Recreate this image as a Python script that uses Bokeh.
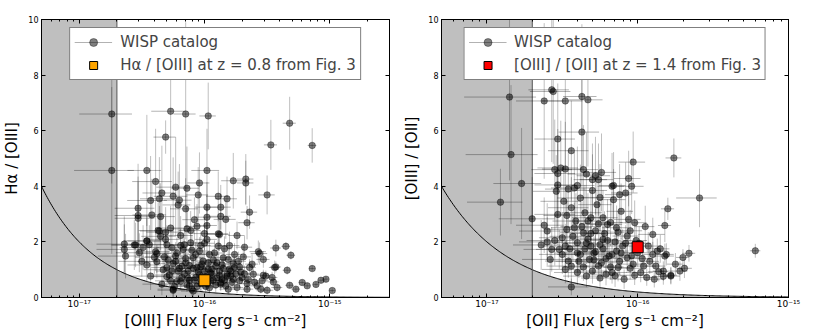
import numpy as np
from bokeh.plotting import figure
from bokeh.models import (ColumnDataSource, Range1d, LogAxis, LinearAxis, Legend, LegendItem,
                          CustomJSTickFormatter, FixedTicker, LogTicker)
from bokeh.layouts import row
from bokeh.embed import file_html
from bokeh.resources import INLINE

FLUX_LIMIT = 2e-17  # detection limit (shaded region / curve ratio = limit / flux)

# ---------------- left panel: Halpha / [OIII] vs [OIII] flux ----------------
left_logflux = [
    -16.74, -16.27, -16.15, -15.97, -16.31, -15.47, -15.32, -15.14, -16.74, -16.46,
    -15.98, -16.14, -16.23, -16.39, -16.34, -16.43, -16.36, -16.05, -16.25, -16.20,
    -16.04, -15.77, -15.67, -15.67, -15.89, -15.82, -15.50, -16.53, -16.53, -16.53,
    -16.42, -16.35, -16.21, -16.15, -15.98, -15.87, -15.98, -15.87, -15.83, -15.64,
    -15.66, -16.06, -15.98, -16.37, -16.31, -16.14, -15.89, -15.74, -16.64, -16.56,
    -16.46, -16.64, -16.63, -16.49, -16.38, -16.30, -16.19, -16.03, -15.80, -15.68,
    -15.56, -15.43, -15.35, -15.31, -15.43, -15.34, -15.14, -15.53, -15.45, -15.32,
    -15.27, -15.22, -15.18, -15.11, -15.07, -15.03, -14.98, -15.50, -16.25, -16.09,
    -16.55, -16.52, -16.46, -16.46, -16.43, -16.39, -16.38, -16.36, -16.34, -16.32,
    -16.31, -16.30, -16.28, -16.26, -16.25, -16.23, -16.21, -16.19, -16.18, -16.17,
    -16.15, -16.13, -16.11, -16.11, -16.09, -16.07, -16.06, -16.04, -16.01, -15.98,
    -15.96, -15.94, -15.91, -15.89, -15.87, -15.85, -15.82, -16.10, -16.25, -15.98,
    -16.03, -15.88, -15.57, -15.69, -15.53, -15.81, -15.77, -15.72, -15.64, -15.61,
    -15.70, -15.77, -15.82, -15.87, -15.66, -15.58, -15.54, -15.51, -15.46, -15.44,
    -15.42, -15.55, -15.66, -15.74, -15.81, -16.00, -15.93, -16.12, -15.79, -16.22,
    -16.20, -16.16, -16.12, -16.08, -16.05, -16.02, -15.99, -15.97, -15.95, -15.93,
    -15.90, -15.88, -15.86, -15.84, -15.80, -15.78, -15.75, -15.73, -16.27, -16.24,
    -16.14, -16.06, -15.96, -16.33, -16.29, -16.22, -16.16, -16.10, -16.00, -15.92,
    -15.84, -16.40, -16.44, -16.50, -16.35, -16.27, -16.08, -16.00, -15.76, -15.71,
    -16.18, -16.13, -16.09, -16.04, -16.01, -15.97, -15.94, -15.91, -15.88, -15.85,
    -15.83, -15.79, -15.76, -15.72, -15.68, -15.65, -15.62, -15.60, -16.30, -16.26,
    -16.23, -16.19, -16.15, -16.12, -16.07, -16.03, -15.99, -15.95, -15.90, -15.86,
]
left_ratio = [
    6.60, 6.70, 6.60, 6.53, 5.77, 5.49, 6.27, 5.47, 4.57, 4.57,
    4.57, 3.93, 3.97, 4.17, 3.76, 3.49, 3.55, 3.69, 3.64, 3.50,
    4.12, 4.20, 4.26, 4.12, 3.64, 3.55, 3.69, 3.21, 2.95, 2.85,
    2.97, 2.91, 3.33, 3.19, 3.25, 3.25, 2.89, 2.92, 2.81, 3.07,
    2.69, 2.56, 2.59, 2.41, 2.35, 2.47, 2.29, 2.23, 1.92, 1.89,
    2.04, 1.73, 1.49, 1.80, 1.58, 1.90, 1.87, 1.87, 1.87, 1.81,
    1.58, 1.78, 1.84, 1.52, 1.10, 0.98, 1.04, 0.80, 0.56, 0.44,
    0.30, 0.54, 0.42, 0.47, 0.62, 0.66, 0.25, 0.26, 0.26, 0.23,
    1.89, 1.61, 2.03, 1.17, 0.77, 1.65, 1.29, 2.39, 0.48, 1.46,
    2.09, 1.08, 0.81, 1.79, 1.22, 1.49, 0.95, 2.23, 0.72, 1.73,
    1.25, 0.95, 1.97, 2.41, 1.43, 0.72, 1.08, 1.67, 1.31, 2.09,
    1.55, 0.84, 1.13, 1.85, 0.48, 1.43, 0.77, 0.30, 0.30, 0.50,
    0.50, 2.27, 1.65, 1.46, 1.37, 1.37, 1.22, 1.10, 1.08, 0.84,
    0.72, 0.66, 0.84, 0.54, 0.50, 0.42, 0.60, 0.77, 0.72, 1.08,
    0.36, 0.30, 0.30, 0.36, 0.30, 0.95, 0.62, 0.62, 0.95, 0.58,
    1.05, 0.85, 1.15, 0.62, 0.92, 1.20, 0.75, 1.02, 0.60, 1.35,
    0.70, 0.95, 1.18, 0.62, 1.02, 0.55, 0.85, 1.30, 0.60, 0.40,
    0.45, 0.40, 0.35, 1.00, 1.35, 1.60, 1.90, 1.70, 1.95, 1.60,
    1.75, 1.45, 1.90, 1.30, 2.20, 2.50, 2.80, 2.30, 1.55, 0.92,
    1.12, 0.70, 1.05, 0.82, 0.55, 1.25, 1.02, 0.45, 0.80, 1.05,
    0.42, 0.78, 1.08, 0.60, 0.85, 0.65, 1.20, 0.55, 0.75, 0.95,
    1.30, 0.58, 1.40, 0.42, 1.55, 1.10, 0.40, 0.88, 1.25, 0.66,
]
left_xerr_frac = [
    0.45, 0.30, 0.20, 0.15, 0.20, 0.12, 0.12, 0.08, 0.50, 0.30,
    0.25, 0.25, 0.30, 0.35, 0.30, 0.35, 0.30, 0.20, 0.30, 0.25,
    0.20, 0.20, 0.15, 0.15, 0.20, 0.20, 0.15, 0.35, 0.35, 0.35,
    0.30, 0.30, 0.25, 0.25, 0.20, 0.20, 0.20, 0.20, 0.20, 0.15,
    0.15, 0.20, 0.20, 0.30, 0.30, 0.25, 0.20, 0.15, 0.40, 0.35,
    0.35, 0.40, 0.40, 0.35, 0.30, 0.30, 0.25, 0.20, 0.20, 0.15,
    0.15, 0.10, 0.08, 0.08, 0.10, 0.08, 0.06, 0.12, 0.10, 0.08,
    0.08, 0.06, 0.06, 0.05, 0.05, 0.05, 0.05, 0.12, 0.25, 0.20,
    0.35, 0.35, 0.30, 0.30, 0.30, 0.30, 0.30, 0.30, 0.30, 0.30,
    0.30, 0.25, 0.25, 0.25, 0.25, 0.25, 0.25, 0.25, 0.25, 0.25,
    0.20, 0.20, 0.20, 0.20, 0.20, 0.20, 0.20, 0.20, 0.20, 0.20,
    0.20, 0.20, 0.20, 0.20, 0.15, 0.15, 0.15, 0.20, 0.25, 0.20,
    0.20, 0.20, 0.15, 0.15, 0.12, 0.15, 0.15, 0.15, 0.12, 0.12,
    0.12, 0.15, 0.15, 0.15, 0.12, 0.12, 0.12, 0.10, 0.10, 0.10,
    0.10, 0.10, 0.12, 0.12, 0.15, 0.20, 0.20, 0.20, 0.15, 0.25,
    0.25, 0.20, 0.20, 0.20, 0.20, 0.20, 0.20, 0.20, 0.15, 0.20,
    0.15, 0.15, 0.15, 0.15, 0.15, 0.12, 0.12, 0.15, 0.25, 0.25,
    0.20, 0.20, 0.15, 0.30, 0.25, 0.25, 0.25, 0.20, 0.20, 0.20,
    0.15, 0.30, 0.30, 0.35, 0.30, 0.25, 0.20, 0.20, 0.15, 0.12,
    0.22, 0.20, 0.20, 0.20, 0.18, 0.18, 0.18, 0.15, 0.15, 0.15,
    0.15, 0.15, 0.15, 0.12, 0.12, 0.12, 0.12, 0.12, 0.25, 0.25,
    0.22, 0.22, 0.20, 0.20, 0.20, 0.20, 0.18, 0.18, 0.15, 0.15,
]
left_yerr = [
    2.50, 3.00, 3.30, 1.20, 0.60, 0.90, 0.95, 0.62, 3.00, 2.00,
    1.50, 1.50, 1.80, 1.90, 1.70, 1.60, 1.50, 1.00, 1.40, 1.30,
    1.10, 1.00, 0.90, 0.80, 0.90, 0.80, 0.70, 1.60, 1.40, 1.30,
    1.30, 1.20, 1.20, 1.10, 0.90, 0.80, 0.80, 0.80, 0.70, 0.60,
    0.60, 0.80, 0.70, 1.00, 0.90, 0.80, 0.60, 0.50, 1.00, 0.90,
    0.90, 0.90, 0.80, 0.80, 0.70, 0.70, 0.60, 0.50, 0.50, 0.40,
    0.40, 0.30, 0.15, 0.15, 0.20, 0.15, 0.10, 0.20, 0.15, 0.10,
    0.10, 0.10, 0.10, 0.10, 0.10, 0.10, 0.08, 0.15, 0.30, 0.25,
    0.80, 0.70, 0.80, 0.60, 0.50, 0.70, 0.60, 0.90, 0.40, 0.60,
    0.80, 0.50, 0.40, 0.60, 0.50, 0.50, 0.40, 0.70, 0.35, 0.60,
    0.50, 0.40, 0.60, 0.70, 0.50, 0.30, 0.40, 0.50, 0.40, 0.60,
    0.50, 0.30, 0.40, 0.50, 0.25, 0.40, 0.30, 0.25, 0.30, 0.25,
    0.25, 0.60, 0.40, 0.40, 0.30, 0.40, 0.35, 0.30, 0.30, 0.25,
    0.25, 0.25, 0.30, 0.25, 0.20, 0.20, 0.20, 0.20, 0.20, 0.25,
    0.15, 0.15, 0.15, 0.20, 0.20, 0.35, 0.25, 0.25, 0.35, 0.25,
    0.40, 0.35, 0.40, 0.30, 0.35, 0.40, 0.30, 0.35, 0.25, 0.40,
    0.30, 0.35, 0.35, 0.25, 0.30, 0.25, 0.30, 0.35, 0.30, 0.25,
    0.25, 0.25, 0.20, 0.45, 0.50, 0.55, 0.60, 0.55, 0.55, 0.45,
    0.45, 0.60, 0.70, 0.55, 0.80, 0.80, 0.80, 0.60, 0.40, 0.30,
    0.40, 0.30, 0.35, 0.30, 0.25, 0.40, 0.35, 0.25, 0.30, 0.35,
    0.20, 0.30, 0.35, 0.25, 0.30, 0.25, 0.35, 0.20, 0.35, 0.40,
    0.45, 0.30, 0.45, 0.25, 0.45, 0.35, 0.25, 0.30, 0.40, 0.30,
]
left_fig3_flux = [1.0e-16]
left_fig3_ratio = [0.62]

# ---------------- right panel: [OIII] / [OII] vs [OII] flux ----------------
right_logflux = [
    -16.85, -16.84, -16.57, -16.56, -16.62, -16.48, -16.37, -16.33, -16.37, -16.53,
    -16.44, -16.03, -15.76, -16.77, -16.55, -16.51, -16.48, -16.53, -16.36, -16.34,
    -16.28, -16.24, -16.26, -16.30, -16.16, -16.06, -16.04, -16.40, -16.53, -16.91,
    -16.70, -16.44, -15.59, -15.80, -15.82, -15.22, -15.66, -15.70, -15.78, -15.83,
    -16.60, -16.64, -16.57, -16.50, -16.44, -16.38, -16.31, -16.24, -16.19, -16.13,
    -16.07, -16.02, -15.96, -15.90, -15.86, -15.82, -15.78, -15.89, -16.09, -16.21,
    -16.34, -16.48, -16.58, -16.53, -16.49, -16.38, -16.27, -16.16, -16.11, -16.31,
    -16.20, -16.42, -16.54, -16.42, -16.17, -16.08, -16.23, -16.14, -16.32, -16.40,
    -16.07, -16.00, -15.93, -15.90, -15.88, -15.83, -15.98, -16.17, -16.26, -16.46,
    -16.52, -16.14, -16.36, -16.44, -16.33, -16.23, -16.06, -15.81, -15.87, -16.28,
    -16.55, -16.47, -16.45, -16.41, -16.39, -16.35, -16.33, -16.29, -16.28, -16.25,
    -16.22, -16.21, -16.18, -16.15, -16.12, -16.10, -16.05, -16.03, -15.99, -15.95,
    -15.92, -16.30, -16.25, -16.15, -16.02, -15.94, -16.40, -16.50, -16.60, -16.62,
    -16.47, -16.35, -16.25, -16.12, -16.46, -16.30, -15.75, -15.72, -15.69, -15.85,
    -16.48, -16.43, -16.40, -16.37, -16.34, -16.31, -16.29, -16.26, -16.23, -16.20,
    -16.17, -16.13, -16.11, -16.08, -16.04, -16.01, -15.97, -16.36, -16.18, -16.05,
]
right_ratio = [
    7.21, 5.14, 7.47, 7.41, 7.07, 7.07, 7.23, 7.11, 5.95, 5.70,
    5.28, 4.87, 5.02, 4.10, 4.60, 4.66, 4.62, 4.46, 4.60, 4.44,
    4.38, 4.50, 4.24, 4.24, 4.03, 4.28, 4.00, 4.03, 4.05, 3.43,
    2.83, 0.38, 3.58, 3.19, 2.59, 1.68, 1.59, 1.44, 0.80, 0.76,
    2.39, 1.89, 1.73, 2.15, 1.13, 1.55, 1.85, 1.25, 1.49, 1.08,
    2.21, 2.69, 1.13, 2.27, 0.93, 1.49, 0.77, 0.66, 0.66, 0.84,
    0.77, 1.01, 1.37, 2.99, 3.46, 3.58, 3.34, 3.52, 3.10, 2.87,
    2.63, 2.51, 3.82, 3.94, 4.00, 3.76, 2.09, 1.67, 1.37, 1.97,
    1.43, 1.61, 1.85, 1.55, 1.13, 0.95, 0.90, 0.90, 1.13, 1.31,
    1.73, 2.51, 2.33, 3.23, 2.75, 2.87, 2.81, 1.55, 1.67, 1.65,
    2.05, 2.45, 1.75, 2.75, 1.30, 1.75, 2.10, 1.60, 2.40, 1.90,
    2.30, 1.40, 2.70, 2.00, 1.30, 1.85, 2.40, 1.20, 1.95, 2.55,
    1.30, 0.95, 0.70, 0.78, 0.80, 0.72, 0.90, 1.55, 2.00, 2.60,
    2.95, 3.05, 3.60, 3.70, 3.90, 3.85, 1.20, 0.95, 1.05, 1.75,
    1.85, 2.20, 1.60, 2.55, 1.95, 2.30, 1.35, 2.65, 1.75, 2.05,
    1.55, 2.35, 1.60, 1.95, 1.50, 2.05, 1.40, 1.10, 1.10, 1.05,
]
right_xerr_frac = [
    0.50, 0.50, 0.30, 0.30, 0.35, 0.30, 0.25, 0.25, 0.30, 0.30,
    0.30, 0.20, 0.12, 0.35, 0.30, 0.30, 0.30, 0.30, 0.25, 0.25,
    0.25, 0.25, 0.25, 0.25, 0.20, 0.20, 0.20, 0.30, 0.30, 0.40,
    0.40, 0.30, 0.30, 0.10, 0.10, 0.08, 0.10, 0.10, 0.10, 0.10,
    0.35, 0.35, 0.35, 0.30, 0.30, 0.30, 0.30, 0.25, 0.25, 0.20,
    0.20, 0.20, 0.20, 0.20, 0.15, 0.15, 0.15, 0.15, 0.20, 0.25,
    0.30, 0.30, 0.35, 0.30, 0.30, 0.30, 0.25, 0.20, 0.20, 0.25,
    0.25, 0.30, 0.30, 0.30, 0.20, 0.20, 0.25, 0.20, 0.30, 0.30,
    0.20, 0.20, 0.20, 0.15, 0.15, 0.15, 0.20, 0.25, 0.25, 0.30,
    0.30, 0.20, 0.30, 0.30, 0.25, 0.25, 0.20, 0.12, 0.15, 0.25,
    0.35, 0.30, 0.30, 0.30, 0.30, 0.30, 0.25, 0.25, 0.25, 0.25,
    0.25, 0.25, 0.20, 0.20, 0.20, 0.20, 0.20, 0.20, 0.20, 0.15,
    0.15, 0.25, 0.25, 0.20, 0.20, 0.15, 0.30, 0.30, 0.35, 0.35,
    0.30, 0.30, 0.25, 0.20, 0.30, 0.25, 0.12, 0.12, 0.12, 0.15,
    0.30, 0.30, 0.30, 0.28, 0.28, 0.25, 0.25, 0.25, 0.25, 0.22,
    0.22, 0.20, 0.20, 0.20, 0.18, 0.18, 0.18, 0.28, 0.22, 0.20,
]
right_yerr = [
    3.00, 2.50, 2.60, 2.60, 2.80, 2.50, 2.60, 2.40, 2.00, 2.00,
    1.80, 1.10, 0.70, 2.00, 1.80, 1.70, 1.70, 1.60, 1.60, 1.50,
    1.40, 1.40, 1.30, 1.30, 1.20, 1.00, 1.00, 1.40, 1.50, 1.20,
    1.50, 0.30, 1.05, 0.40, 0.60, 0.25, 0.30, 0.30, 0.30, 0.30,
    1.00, 0.90, 0.80, 0.90, 0.60, 0.70, 0.70, 0.50, 0.60, 0.50,
    0.70, 0.80, 0.40, 0.60, 0.35, 0.45, 0.30, 0.30, 0.35, 0.40,
    0.40, 0.50, 0.60, 1.10, 1.20, 1.20, 1.10, 1.10, 1.00, 1.00,
    0.90, 0.90, 1.30, 1.30, 1.20, 1.10, 0.70, 0.60, 0.60, 0.80,
    0.50, 0.50, 0.50, 0.45, 0.40, 0.35, 0.35, 0.40, 0.50, 0.60,
    0.70, 0.80, 0.80, 1.10, 1.00, 1.00, 0.90, 0.40, 0.45, 0.60,
    0.90, 1.00, 0.80, 1.00, 0.60, 0.70, 0.80, 0.60, 0.80, 0.70,
    0.80, 0.55, 0.85, 0.70, 0.50, 0.60, 0.75, 0.45, 0.60, 0.75,
    0.45, 0.45, 0.40, 0.40, 0.35, 0.30, 0.45, 0.70, 0.90, 1.00,
    1.10, 1.00, 1.20, 1.10, 1.40, 1.30, 0.40, 0.35, 0.35, 0.50,
    0.80, 0.90, 0.70, 0.90, 0.75, 0.80, 0.55, 0.85, 0.65, 0.70,
    0.55, 0.75, 0.55, 0.65, 0.50, 0.65, 0.45, 0.50, 0.45, 0.40,
]
right_fig3_flux = [1.0e-16]
right_fig3_ratio = [1.81]

y_ticks = [0, 2, 4, 6, 8, 10]

SUPER_JS = """
const sup = {'-':'\u207b','0':'\u2070','1':'\u00b9','2':'\u00b2','3':'\u00b3','4':'\u2074',
             '5':'\u2075','6':'\u2076','7':'\u2077','8':'\u2078','9':'\u2079'};
const e = Math.round(Math.log10(tick));
return '10' + String(e).split('').map(c => sup[c]).join('');
"""
BLANK_JS = "return '';"

FONT = "DejaVu Sans"
SHADE = "#bfbfbf"


def style_axis(ax):
    ax.axis_line_color = "black"
    ax.major_tick_in = 4
    ax.major_tick_out = 0
    ax.minor_tick_in = 2
    ax.minor_tick_out = 0
    ax.major_tick_line_color = "black"
    ax.minor_tick_line_color = "black"
    ax.major_label_text_font = FONT
    ax.major_label_text_font_size = "8px"
    ax.major_label_text_color = "black"
    ax.axis_label_text_font = FONT
    ax.axis_label_text_font_size = "15px"
    ax.axis_label_text_font_style = "normal"
    ax.axis_label_text_color = "black"


def mirror_axis(ax):
    style_axis(ax)
    ax.axis_label = None
    ax.major_label_standoff = 0
    ax.axis_label_standoff = 0


def make_panel(logflux, ratio, xfrac, yerr, f3x, f3y, f3color, xmax, xlabel, ylabel,
               legend_label, width, b_left, b_right):
    flux = [10.0 ** v for v in logflux]
    src = ColumnDataSource(dict(
        x=flux, y=ratio,
        xlo=[f * (1 - a) for f, a in zip(flux, xfrac)],
        xhi=[f * (1 + a) for f, a in zip(flux, xfrac)],
        ylo=[r - e for r, e in zip(ratio, yerr)],
        yhi=[r + e for r, e in zip(ratio, yerr)],
    ))
    xmin = 5e-18
    p = figure(x_axis_type="log", x_range=Range1d(xmin, xmax), y_range=Range1d(0, 10),
               width=width, height=332,
               min_border_left=b_left, min_border_right=b_right,
               min_border_top=19, min_border_bottom=34,
               output_backend="svg", toolbar_location=None,
               background_fill_color="white", border_fill_color="white")
    p.grid.visible = False
    p.outline_line_color = "black"
    p.outline_line_alpha = 1.0

    # shaded regions: below detection limit flux, and under the limit curve
    cx = np.logspace(np.log10(xmin), np.log10(xmax), 300)
    cy = FLUX_LIMIT / cx
    p.varea(x=[xmin, FLUX_LIMIT], y1=[0, 0], y2=[10, 10], fill_color=SHADE)
    p.varea(x=cx, y1=np.zeros_like(cx), y2=cy, fill_color=SHADE)
    p.line(cx, cy, line_color="black", line_width=1)
    p.line(x=[FLUX_LIMIT, FLUX_LIMIT], y=[0, 10], line_color="#555555", line_width=1)

    # error bars + points
    eh = p.segment(x0="xlo", y0="y", x1="xhi", y1="y", source=src,
                   line_color="black", line_alpha=0.3, line_width=1)
    p.segment(x0="x", y0="ylo", x1="x", y1="yhi", source=src,
              line_color="black", line_alpha=0.25, line_width=1)
    pts = p.scatter("x", "y", source=src, size=6.5, fill_color="black", fill_alpha=0.5,
                    line_color="black", line_alpha=0.35)
    sq = p.scatter(f3x, f3y, marker="square", size=11, fill_color=f3color,
                   line_color="black", line_width=1)

    # axes
    p.xaxis.ticker = LogTicker(num_minor_ticks=10)
    p.xaxis.formatter = CustomJSTickFormatter(code=SUPER_JS)
    p.yaxis.ticker = FixedTicker(ticks=y_ticks, minor_ticks=[])
    p.xaxis.axis_label = xlabel
    p.yaxis.axis_label = ylabel
    style_axis(p.xaxis[0])
    style_axis(p.yaxis[0])
    p.xaxis.major_label_text_font_size = "9px"
    p.xaxis.major_label_standoff = 1
    p.xaxis.axis_label_standoff = 0
    p.yaxis.major_label_standoff = 3
    p.yaxis.axis_label_standoff = 4

    top = LogAxis(ticker=LogTicker(num_minor_ticks=10),
                  formatter=CustomJSTickFormatter(code=BLANK_JS))
    mirror_axis(top)
    p.add_layout(top, "above")
    right = LinearAxis(ticker=FixedTicker(ticks=y_ticks, minor_ticks=[]),
                       formatter=CustomJSTickFormatter(code=BLANK_JS))
    mirror_axis(right)
    p.add_layout(right, "right")

    legend = Legend(items=[LegendItem(label="WISP catalog", renderers=[eh, pts]),
                           LegendItem(label=legend_label, renderers=[sq])],
                    location="top_center", margin=8, padding=4, spacing=3,
                    glyph_width=38, glyph_height=20, label_height=20, label_standoff=8,
                    label_text_font=FONT, label_text_font_size="15px",
                    border_line_color="black", border_line_width=1,
                    background_fill_color="white", background_fill_alpha=1.0)
    p.add_layout(legend)
    return p


p1 = make_panel(left_logflux, left_ratio, left_xerr_frac, left_yerr,
                left_fig3_flux, left_fig3_ratio, "orange", 3e-15,
                "[OIII] Flux [erg s\u207b\u00b9 cm\u207b\u00b2]", "H\u03b1 / [OIII]",
                "H\u03b1 / [OIII] at z = 0.8 from Fig. 3", 400, 41, 11)
p2 = make_panel(right_logflux, right_ratio, right_xerr_frac, right_yerr,
                right_fig3_flux, right_fig3_ratio, "red", 1e-15,
                "[OII] Flux [erg s\u207b\u00b9 cm\u207b\u00b2]", "[OIII] / [OII]",
                "[OIII] / [OII] at z = 1.4 from Fig. 3", 408, 41, 20)

layout = row(p1, p2)
open("out.html", "w", encoding="utf-8").write(file_html(layout, INLINE))
